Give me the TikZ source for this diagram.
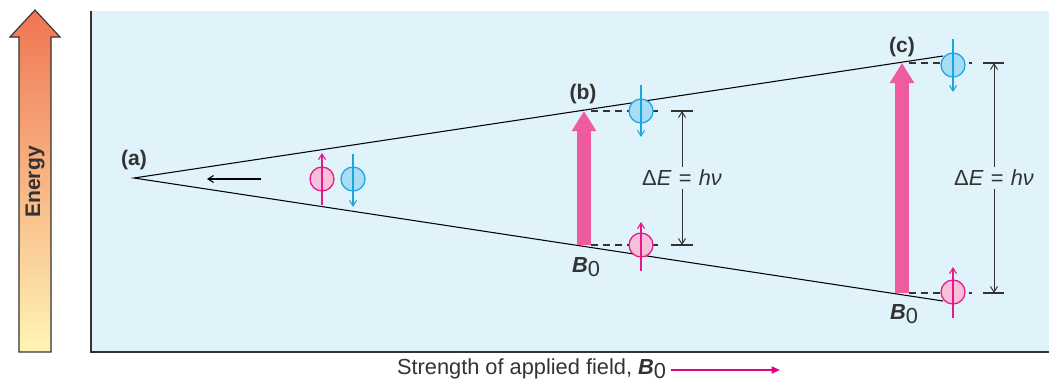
\documentclass[tikz,border=0pt]{standalone}
\usepackage{fontspec}
\setmainfont{Liberation Sans}
\usepackage{tikz}
\usetikzlibrary{arrows.meta, positioning, calc}
\usepackage{xcolor}
\definecolor{panelblue}{HTML}{E0F2FA}
\definecolor{pumppink}{HTML}{EE5C9E}
\definecolor{spinpink}{HTML}{E8178A}
\definecolor{spinpinkfill}{HTML}{F7BFD8}
\definecolor{spinblue}{HTML}{1AA7E1}
\definecolor{spinbluefill}{HTML}{A8DDF5}
\definecolor{energytop}{HTML}{F07552}
\definecolor{energybot}{HTML}{FFF5B5}
\definecolor{fieldmag}{HTML}{E6007E}
\definecolor{inkgray}{HTML}{333333}

\newcommand{\Bnought}{{\bfseries\itshape B}\raisebox{-0.3ex}{0}}
\newcommand{\gaplabel}{Δ\textit{E}\,\,=\,\,\textit{hν}}

\begin{document}
\begin{tikzpicture}[
  x=0.025cm, y=-0.025cm,
  level/.style={line width=0.75pt, black},
  guide/.style={line width=0.8pt, dash pattern=on 5pt off 3.5pt, inkgray},
  tick/.style={line width=0.8pt, inkgray},
  upspin/.style={circle, draw=spinpink, fill=spinpinkfill, line width=0.9pt,
                 minimum size=0.6cm, inner sep=0pt},
  downspin/.style={circle, draw=spinblue, fill=spinbluefill, line width=0.9pt,
                   minimum size=0.6cm, inner sep=0pt},
  uparr/.style={spinpink, line width=0.75pt, -{Straight Barb[length=4pt,width=5pt]}},
  downarr/.style={spinblue, line width=0.75pt, -{Straight Barb[length=4pt,width=5pt]}},
  pump/.style={pumppink, line width=0.35cm,
               -{Triangle[width=0.58cm, length=0.5cm]}},
  gap/.style={inkgray, line width=0.7pt,
              {Straight Barb[length=4pt,width=5pt]}-{Straight Barb[length=4pt,width=5pt]}},
  gaptext/.style={fill=panelblue, font=\fontsize{15.5}{18}\selectfont, inner sep=2pt},
  tag/.style={font=\fontsize{15}{17}\selectfont\bfseries, text=inkgray},
  field/.style={font=\fontsize{15.5}{18}\selectfont, text=inkgray}
]
  \useasboundingbox (0,0) rectangle (1049,383);

  % panel
  \fill[panelblue] (91,11) rectangle (1049,352);
  \draw[line width=1.4pt, inkgray] (91,11) -- (91,352) -- (1049,352);

  % energy axis
  \shade[top color=energytop, bottom color=energybot, draw=inkgray, line width=0.8pt]
    (19,352) -- (19,37) -- (10,37) -- (35,10) -- (60,37) -- (51,37) -- (51,352) -- cycle;
  \node[rotate=90, font=\fontsize{15}{17}\selectfont\bfseries, text=inkgray]
    (energy) at (35,182) {Energy};

  % splitting of the levels
  \coordinate (va) at (134,178);
  \coordinate (ue) at (943,56);
  \coordinate (le) at (943,301);
  \draw[level] (ue) -- (va) -- (le);
  \node[tag] (tagA) at (134,160) {(a)};

  \coordinate (shrinkfrom) at (261,179);
  \coordinate (shrinkto) at (207,179);
  \draw[level, -{Straight Barb[length=4pt,width=5pt]}] (shrinkfrom) -- (shrinkto);

  \node[upspin] (pa) at (322,179) {};
  \draw[uparr] ($(pa)+(0,26)$) -- ($(pa)+(0,-26)$);
  \node[downspin] (qa) at (353,179) {};
  \draw[downarr] ($(qa)+(0,-25)$) -- ($(qa)+(0,28)$);

  % (b)
  \coordinate (bt) at (584,111);
  \coordinate (bb) at (584,245);
  \draw[pump] (bb) -- (bt);
  \node[tag] (tagB) at (583,94) {(b)};
  \node[field] (fieldB) at (586,267) {\Bnought};
  \draw[guide] ($(bt)+(7,0)$) -- (660,111);
  \draw[guide] ($(bb)+(7,0)$) -- (660,245);
  \draw[tick] (671,111) -- (693,111);
  \draw[tick] (671,245) -- (693,245);
  \node[downspin] (qb) at (641,111) {};
  \draw[downarr] ($(qb)+(0,-26)$) -- ($(qb)+(0,26)$);
  \node[upspin] (pb) at (641,245) {};
  \draw[uparr] ($(pb)+(0,26)$) -- ($(pb)+(0,-23)$);
  \coordinate (gbt) at (682,111);
  \coordinate (gbb) at (682,245);
  \draw[gap] (gbt) -- node[gaptext] (lblB) {\gaplabel} (gbb);

  % (c)
  \coordinate (ct) at (902,63);
  \coordinate (cb) at (902,293);
  \draw[pump] (cb) -- (ct);
  \node[tag] (tagC) at (902,47) {(c)};
  \node[field] (fieldC) at (904,314) {\Bnought};
  \draw[guide] ($(ct)+(7,0)$) -- (972,63);
  \draw[guide] ($(cb)+(7,0)$) -- (972,293);
  \draw[tick] (983,63) -- (1004,63);
  \draw[tick] (983,293) -- (1004,293);
  \node[downspin] (qc) at (953,65) {};
  \draw[downarr] ($(qc)+(0,-26)$) -- ($(qc)+(0,27)$);
  \node[upspin] (pc) at (953,292) {};
  \draw[uparr] ($(pc)+(0,26)$) -- ($(pc)+(0,-25)$);
  \coordinate (gct) at (994,63);
  \coordinate (gcb) at (994,293);
  \draw[gap] (gct) -- node[gaptext] (lblC) {\gaplabel} (gcb);

  % field axis
  \node[field, anchor=east] (fieldlbl) at (671,369) {Strength of applied field, \Bnought};
  \coordinate (fieldend) at (780,370);
  \draw[fieldmag, line width=1.2pt, -{Triangle[length=6pt,width=5pt]}]
    (fieldlbl.east |- fieldend) -- (fieldend);
\end{tikzpicture}
\end{document}
